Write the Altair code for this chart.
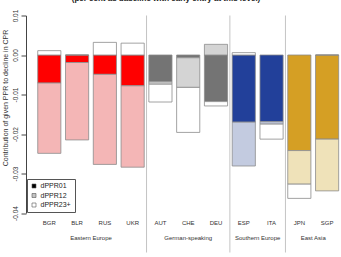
import altair as alt
import pandas as pd

countries = ["BGR", "BLR", "RUS", "UKR", "AUT", "CHE", "DEU", "ESP", "ITA", "JPN", "SGP"]
groups = ["Eastern Europe"] * 4 + ["German-speaking"] * 3 + ["Southern Europe"] * 2 + ["East Asia"] * 2
dPPR01 = [-0.0071, -0.0019, -0.0049, -0.0078, -0.0068, -0.0007, -0.0118, -0.0170, -0.0169, -0.0242, -0.0213]
dPPR12 = [-0.0178, -0.0196, -0.0228, -0.0206, -0.0006, -0.0075, 0.0027, -0.0111, -0.0006, -0.0085, -0.0131]
dPPR23 = [0.0011, 0.0, 0.0032, 0.0030, -0.0045, -0.0114, -0.0011, 0.0006, -0.0038, -0.0036, 0.0]
components = ["dPPR01", "dPPR12", "dPPR23+"]
group_names = ["Eastern Europe", "German-speaking", "Southern Europe", "East Asia"]
dark_cols = ["#FF0000", "#747474", "#22409A", "#D59F24"]
light_cols = ["#F4B6B6", "#D4D4D4", "#C3CBE0", "#EFE2B9"]
legend_cols = ["#000000", "#C4C4C4", "#FFFFFF"]
title_text = "(per cent as baseline with early entry at this level)"
ytitle = "Contribution of given PPR to decline in CPR"

FONT = "Liberation Sans"
STEP, BAR = 1.2, 1.0

rows = []
for i, (c, g) in enumerate(zip(countries, groups)):
    x0 = i * STEP + (STEP - BAR)
    for k, (comp, vals) in enumerate(zip(components, [dPPR01, dPPR12, dPPR23])):
        rows.append({"country": c, "group": g, "component": comp, "order": k,
                     "value": vals[i], "x0": x0, "x1": x0 + BAR, "key": g + "|" + comp})
bars_df = pd.DataFrame(rows)

keys, cols = [], []
for g, d, l in zip(group_names, dark_cols, light_cols):
    for comp, col in zip(components, [d, l, "#FFFFFF"]):
        keys.append(g + "|" + comp)
        cols.append(col)

lab_df = pd.DataFrame({"country": countries,
                       "xc": [i * STEP + (STEP - BAR) + BAR / 2 for i in range(len(countries))]})
lab_df["group"] = groups
grp_df = lab_df.groupby("group", sort=False)["xc"].mean().reset_index()
sep_pos = []
for i in range(1, len(groups)):
    if groups[i] != groups[i - 1]:
        sep_pos.append(i * STEP + (STEP - BAR) / 2)
sep_df = pd.DataFrame({"pos": sep_pos})

xscale = alt.Scale(domain=[-0.307, 13.3], nice=False, zero=False)
yscale = alt.Scale(domain=[-0.04, 0.01], nice=False, zero=False)

seps = alt.Chart(sep_df).mark_rule(color="#C4C4C4", strokeWidth=1).encode(
    x=alt.X("pos:Q", scale=xscale, axis=None),
    y=alt.value(0), y2=alt.value(237))

bars = alt.Chart(bars_df).transform_stack(
    stack="value", groupby=["country"], as_=["y0", "y1"],
    sort=[alt.SortField(field="order", order="ascending")], offset="zero"
).mark_bar(stroke="#8c8c8c", strokeWidth=0.8).encode(
    x=alt.X("x0:Q", scale=xscale, axis=None),
    x2="x1:Q",
    y=alt.Y("y0:Q", scale=yscale,
            axis=alt.Axis(values=[0.01, 0.0, -0.01, -0.02, -0.03, -0.04],
                          labelExpr="datum.value < 0 ? '-' + format(-datum.value, '.2f') : format(datum.value, '.2f')",
                          labelAngle=270, labelAlign="center", labelBaseline="bottom",
                          labelPadding=3, tickSize=5, grid=False,
                          domainColor="#444", tickColor="#444", labelColor="#333",
                          labelFontSize=6.5, labelFont=FONT,
                          title=ytitle, titleFontSize=7, titleFontWeight="normal",
                          titleFont=FONT, titleColor="#333",
                          titleX=-21, titleY=82, titleBaseline="middle")),
    y2="y1:Q",
    color=alt.Color("key:N", scale=alt.Scale(domain=keys, range=cols), legend=None))

clab = alt.Chart(lab_df).mark_text(fontSize=6, font=FONT, color="#333", baseline="middle").encode(
    x=alt.X("xc:Q", scale=xscale, axis=None), y=alt.value(207.5), text="country:N")

glab = alt.Chart(grp_df).mark_text(fontSize=6, font=FONT, color="#333", baseline="middle").encode(
    x=alt.X("xc:Q", scale=xscale, axis=None), y=alt.value(222), text="group:N")

leg = alt.Chart(pd.DataFrame({"component": components})).mark_square(
    clip=True, size=16, stroke="#555", strokeWidth=0.6, opacity=1).encode(
    x=alt.value(-200), y=alt.value(-200),
    color=alt.Color("component:N",
                    scale=alt.Scale(domain=components, range=legend_cols),
                    legend=alt.Legend(orient="none", legendX=1, legendY=163.5, title=None,
                                      symbolType="square", symbolSize=16,
                                      symbolStrokeColor="#555", symbolStrokeWidth=0.6,
                                      labelFontSize=7, labelFont=FONT, labelColor="#222",
                                      labelOffset=3, rowPadding=1.5, padding=3.5,
                                      strokeColor="#555", fillColor="white")))

ttl = alt.Chart(pd.DataFrame({"t": [title_text]})).mark_text(
    fontSize=8, fontWeight="bold", font=FONT, color="#222", baseline="alphabetic").encode(
    x=alt.value(140), y=alt.value(-15), text="t:N")

chart = alt.layer(seps, bars, clab, glab, leg, ttl).resolve_scale(color="independent").properties(
    width=315, height=197.5,
    autosize=alt.AutoSizeParams(type="none"),
    padding={"left": 26, "top": 15.5, "right": 0, "bottom": 44},
    background="white",
).configure_view(stroke=None)

chart.save("out.html", embed_options={"renderer": "svg", "actions": False})
